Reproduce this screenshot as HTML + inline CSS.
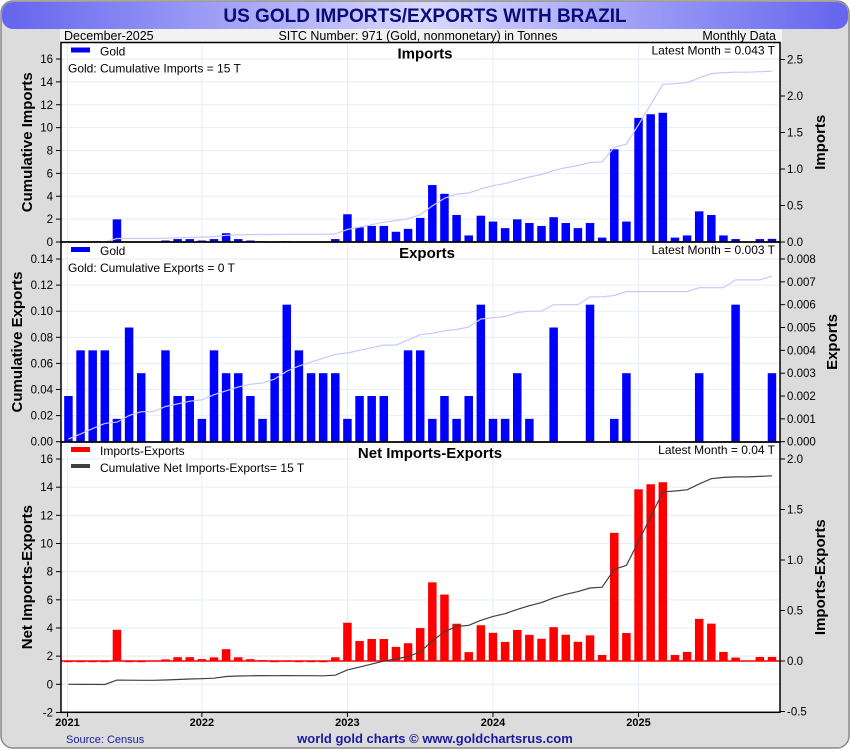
<!DOCTYPE html>
<html><head><meta charset="utf-8">
<style>
html,body{margin:0;padding:0;background:#fff;}
body{width:850px;height:750px;overflow:hidden;font-family:"Liberation Sans",sans-serif;}
</style></head>
<body>
<svg id="chart" width="850" height="750" xmlns="http://www.w3.org/2000/svg" font-family="Liberation Sans, sans-serif">
<defs>
<linearGradient id="tg" x1="0" x2="1" y1="0" y2="0">
<stop offset="0" stop-color="#6464ee"/><stop offset="0.5" stop-color="#d8d8ff"/><stop offset="1" stop-color="#6464ee"/>
</linearGradient>
</defs>
<rect x="1" y="1" width="848" height="747" rx="12" fill="#dcdcdc" stroke="#888" stroke-width="1.5"/>
<rect x="2" y="2" width="846" height="27" rx="11" fill="url(#tg)"/>
<text x="425" y="22" text-anchor="middle" font-size="19" font-weight="bold" fill="#0a0a78">US GOLD IMPORTS/EXPORTS WITH BRAZIL</text>
<rect x="60" y="29" width="722" height="14" fill="#f2f2f2"/>
<text x="64" y="40" font-size="12.5" fill="#000">December-2025</text>
<text x="418" y="40" text-anchor="middle" font-size="12.5" fill="#000">SITC Number: 971 (Gold, nonmonetary) in Tonnes</text>
<text x="776" y="40" text-anchor="end" font-size="12.5" fill="#000">Monthly Data</text>
<rect x="61" y="42.5" width="719" height="670" fill="#fff"/>
<g id="layer"></g>
<text x="66" y="743" font-size="11" fill="#1a1aa0">Source: Census</text>
<text x="435" y="743" text-anchor="middle" font-size="13" font-weight="bold" fill="#1a1aa0">world gold charts © www.goldchartsrus.com</text>
</svg>
<script>
// Months Feb-2021 .. Dec-2025 (59 months), month index m = 1..59 (0 = Jan 2021)
const startMonth = 1;
const importsT = [0,0,0,0,0.31,0,0,0,0.02,0.04,0.04,0.02,0.04,0.12,0.04,0.02,0.01,0,0.01,0,0,0,0.04,0.38,0.20,0.22,0.22,0.14,0.18,0.33,0.78,0.66,0.37,0.09,0.36,0.28,0.19,0.31,0.26,0.22,0.34,0.26,0.19,0.26,0.06,1.27,0.28,1.70,1.75,1.77,0.06,0.09,0.42,0.37,0.09,0.04,0,0.04,0.043];
const exportsT = [0.002,0.004,0.004,0.004,0.001,0.005,0.003,0,0.004,0.002,0.002,0.001,0.004,0.003,0.003,0.002,0.001,0.003,0.006,0.004,0.003,0.003,0.003,0.001,0.002,0.002,0.002,0,0.004,0.004,0.001,0.002,0.001,0.002,0.006,0.001,0.001,0.003,0.001,0,0.005,0,0,0.006,0,0.001,0.003,0,0,0,0,0,0.003,0,0,0.006,0,0,0.003];
const yearLabels = ["2021","2022","2023","2024","2025"];
const yearMonths = [0,12,24,36,48];
const impLeftTicks = [0,2,4,6,8,10,12,14,16];
const impRightTicks = [0,0.5,1.0,1.5,2.0,2.5];
const expLeftTicks = [0,0.02,0.04,0.06,0.08,0.10,0.12,0.14];
const expRightTicks = [0,0.001,0.002,0.003,0.004,0.005,0.006,0.007,0.008];
const netLeftTicks = [-2,0,2,4,6,8,10,12,14,16];
const netRightTicks = [-0.5,0,0.5,1.0,1.5,2.0];

const NS="http://www.w3.org/2000/svg";
const layer=document.getElementById('layer');
function mk(tag,attrs,parent){const e=document.createElementNS(NS,tag);for(const k in attrs)e.setAttribute(k,attrs[k]);(parent||layer).appendChild(e);return e;}
const X0=61,X1=780;
function xm(m){return 56.3+12.13*m;}
const BW=8.5;
function yScale(v0,y0,v1,y1){return v=>y0+(v-v0)*(y1-y0)/(v1-v0);}

function panel(cfg){
  const g=mk('g',{});
  
  
  cfg.leftTicks.forEach(t=>{const y=cfg.yl(t);if(y>cfg.top+1&&y<cfg.bot-1){const l=mk('line',{x1:X0,x2:X1,y1:y,y2:y,stroke:'#e3eef8','stroke-width':1},g);}});
  yearMonths.forEach(m=>{const x=Math.max(xm(m),67.5);const l=mk('line',{x1:x,x2:x,y1:cfg.top,y2:cfg.bot,stroke:'#e3eef8','stroke-width':1},g);});
  let c=0,pts=[];
  cfg.vals.forEach((v,i)=>{c+=v*cfg.cumMul;pts.push(xm(i+startMonth).toFixed(1)+','+cfg.yl(c).toFixed(1));});
  cfg.vals.forEach((v,i)=>{
    if(v===0)return;
    const x=xm(i+startMonth);const y0=cfg.yr(0),y1=cfg.yr(v);
    const r=mk('rect',{x:x-BW/2,y:Math.min(y0,y1),width:BW,height:Math.max(Math.abs(y1-y0),1.2),fill:cfg.barColor},g);
    
    
  });
  if(cfg.zeroLine){const l=mk('line',{x1:X0,x2:X1,y1:cfg.yr(0),y2:cfg.yr(0),stroke:'#ff0000','stroke-width':1.5},g);}
  const pl=mk('polyline',{points:pts.join(' '),fill:'none',stroke:cfg.lineColor,'stroke-width':cfg.lineW},g);
  
  
  const fr=mk('rect',{x:X0,y:cfg.top,width:X1-X0,height:cfg.bot-cfg.top,fill:'none',stroke:'#000','stroke-width':1.5},g);
  
  
  cfg.leftTicks.forEach(t=>{const y=cfg.yl(t);mk('line',{x1:X0-5,x2:X0,y1:y,y2:y,stroke:'#000'},g);
    const tx=mk('text',{x:X0-8,y:y+4,'text-anchor':'end','font-size':11.5},g);tx.textContent=cfg.lfmt(t);
    });
  cfg.rightTicks.forEach(t=>{const y=cfg.yr(t);mk('line',{x1:X1,x2:X1+5,y1:y,y2:y,stroke:'#000'},g);
    const tx=mk('text',{x:X1+7,y:y+4,'font-size':11.5},g);tx.textContent=cfg.rfmt(t);
    });
  const mid=(cfg.top+cfg.bot)/2;
  const lt=mk('text',{x:0,y:0,'text-anchor':'middle','font-size':15,'font-weight':'bold',transform:`translate(${cfg.ltx},${mid}) rotate(-90)`},g);lt.textContent=cfg.leftTitle;
  
  const rt=mk('text',{x:0,y:0,'text-anchor':'middle','font-size':15,'font-weight':'bold',transform:`translate(${cfg.rtx},${mid}) rotate(-90)`},g);rt.textContent=cfg.rightTitle;
  
  const pt=mk('text',{x:cfg.titleX,y:cfg.top+16,'text-anchor':'middle','font-size':15,'font-weight':'bold'},g);pt.textContent=cfg.title;
  
  const lm=mk('text',{x:X1-5,y:cfg.top+12,'text-anchor':'end','font-size':12},g);lm.textContent=cfg.latest;
  
  mk('rect',{x:71,y:cfg.top+5,width:19,height:5,fill:cfg.barColor},g);
  const l1=mk('text',{x:100,y:cfg.top+13,'font-size':12},g);l1.textContent=cfg.leg1;
  
  if(cfg.leg2Swatch)mk('rect',{x:71,y:cfg.top+22,width:19,height:4,fill:'#404040'},g);
  const l2=mk('text',{x:cfg.leg2Swatch?100:68,y:cfg.top+30,'font-size':12},g);l2.textContent=cfg.leg2;
  
}

const f1=t=>String(t), f2=t=>t.toFixed(1), f3=t=>t.toFixed(2), f4=t=>t.toFixed(3);
panel({name:'imports',top:42.5,bot:242,vals:importsT,cumMul:1,
  yl:yScale(0,242,16,59),yr:yScale(0,242,2.5,59.5),leftTicks:impLeftTicks,rightTicks:impRightTicks,
  lfmt:f1,rfmt:f2,barColor:'#0000ff',lineColor:'#c8c8f8',lineW:1.2,leftTitle:'Cumulative Imports',rightTitle:'Imports',
  ltx:32,rtx:825,title:'Imports',titleX:425,latest:'Latest Month = 0.043 T',leg1:'Gold',leg2:'Gold: Cumulative Imports = 15 T'});
panel({name:'exports',top:242,bot:442,vals:exportsT,cumMul:1,
  yl:yScale(0,441.7,0.14,259),yr:yScale(0,441.7,0.008,259),leftTicks:expLeftTicks,rightTicks:expRightTicks,
  lfmt:f3,rfmt:f4,barColor:'#0000ff',lineColor:'#c8c8f8',lineW:1.2,leftTitle:'Cumulative Exports',rightTitle:'Exports',
  ltx:22,rtx:837,title:'Exports',titleX:427,latest:'Latest Month = 0.003 T',leg1:'Gold',leg2:'Gold: Cumulative Exports = 0 T'});
const netT=importsT.map((v,i)=>v-exportsT[i]);
panel({name:'net',top:442,bot:712.3,vals:netT,cumMul:1,zeroLine:true,
  yl:yScale(0,684.3,16,459),yr:yScale(0,661,2.0,459),leftTicks:netLeftTicks,rightTicks:netRightTicks,
  lfmt:f1,rfmt:f2,barColor:'#ff0000',lineColor:'#404040',lineW:1.2,leftTitle:'Net Imports-Exports',rightTitle:'Imports-Exports',
  ltx:32,rtx:825,title:'Net Imports-Exports',titleX:430,latest:'Latest Month = 0.04 T',leg1:'Imports-Exports',leg2:'Cumulative Net Imports-Exports= 15 T',leg2Swatch:true});
yearLabels.forEach((lab,i)=>{const x=Math.max(xm(yearMonths[i]),67.5);
  mk('line',{x1:x,x2:x,y1:712.3,y2:717,stroke:'#000'});
  const t=mk('text',{x:x,y:726,'text-anchor':'middle','font-size':11,'font-weight':'bold'});t.textContent=lab;
  
  
});
</script>
</body></html>
